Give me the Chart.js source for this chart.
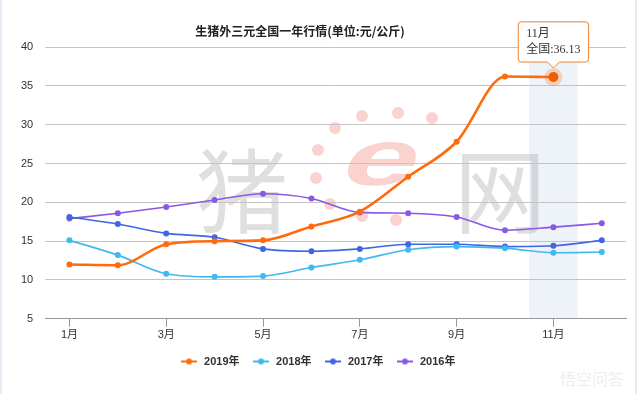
<!DOCTYPE html>
<html>
<head>
<meta charset="utf-8">
<script src="https://cdn.jsdelivr.net/npm/chart.js@4"></script>
<style>
  html, body { margin: 0; padding: 0; background: #fff; }
  #wrap { width: 640px; height: 394px; }
</style>
</head>
<body>
<div id="wrap"><canvas id="myChart" width="640" height="394"></canvas></div>
<script>
'use strict';

// 月份
const months = ['1月', '2月', '3月', '4月', '5月', '6月', '7月', '8月', '9月', '10月', '11月', '12月'];
const xTickLabels = ['1月', '3月', '5月', '7月', '9月', '11月'];

// 各年の価格 (元/公斤)
const s2019 = [12.0, 11.9, 14.6, 15.0, 15.1, 16.9, 18.8, 23.3, 27.8, 36.2, 36.13, null];
const s2018 = [15.1, 13.2, 10.8, 10.4, 10.5, 11.6, 12.6, 13.9, 14.3, 14.1, 13.5, 13.6];
const s2017 = [18.1, 17.2, 16.0, 15.5, 14.0, 13.7, 14.0, 14.6, 14.6, 14.3, 14.4, 15.1];
const s2016 = [17.9, 18.6, 19.4, 20.3, 21.1, 20.5, 18.7, 18.6, 18.1, 16.4, 16.8, 17.3];

const seriesNames = ['2019年', '2018年', '2017年', '2016年'];
const seriesColors = ['#ff6a0d', '#3fb9ee', '#3f66e0', '#8b58e6'];

const yMin = 5, yMax = 40, yStep = 5;
const highlightIndex = 10; // 11月
const chartTitle = '生猪外三元全国一年行情(单位:元/公斤)';

const FONT = '"Liberation Sans", "Noto Sans CJK SC", sans-serif';

// 凡例のアイコン（線＋点）
function legendIcon(color) {
  const c = document.createElement('canvas');
  c.width = 16; c.height = 8;
  const g = c.getContext('2d');
  g.strokeStyle = color;
  g.lineWidth = 2;
  g.beginPath(); g.moveTo(0, 4); g.lineTo(16, 4); g.stroke();
  g.fillStyle = color;
  g.beginPath(); g.arc(8, 4, 3, 0, Math.PI * 2); g.fill();
  return c;
}
const icons = seriesColors.map(legendIcon);

// 背景: ハイライト帯とウォーターマーク
const backdrop = {
  id: 'backdrop',
  beforeDraw(chart) {
    const { ctx, chartArea: a, scales: { x } } = chart;
    const w = x.getPixelForValue(1) - x.getPixelForValue(0);
    const cx = x.getPixelForValue(highlightIndex);
    ctx.save();
    ctx.fillStyle = '#eef2f9';
    ctx.fillRect(cx - w / 2, a.top, w, a.bottom - a.top);

    // 猪e网
    ctx.fillStyle = 'rgba(150,150,150,0.30)';
    ctx.font = '92px "Noto Sans CJK SC"';
    ctx.textAlign = 'center';
    ctx.textBaseline = 'middle';
    ctx.fillText('猪', 242, 191);
    ctx.fillText('网', 500, 191);
    ctx.fillStyle = 'rgba(238,110,95,0.30)';
    const dots = [[335, 128], [362, 116], [398, 113], [432, 118], [318, 150], [316, 178], [330, 204], [362, 216], [396, 220]];
    dots.forEach(([px, py]) => {
      ctx.beginPath(); ctx.arc(px, py, 6, 0, Math.PI * 2); ctx.fill();
    });
    ctx.save();
    ctx.translate(382, 163);
    ctx.transform(1.35, 0, -0.32, 0.8, 0, 0);
    ctx.font = 'bold 100px "Liberation Sans"';
    ctx.fillText('e', 0, 0);
    ctx.restore();

    // 左右の枠線
    ctx.fillStyle = '#e6eaf5';
    ctx.fillRect(0, 0, 2, chart.height);
    ctx.fillRect(chart.width - 5, 0, 2, chart.height);
    ctx.restore();
  },
  beforeDatasetsDraw(chart) {
    const p = chart.getDatasetMeta(0).data[highlightIndex];
    const { ctx } = chart;
    ctx.save();
    ctx.fillStyle = 'rgba(255,106,13,0.25)';
    ctx.beginPath(); ctx.arc(p.x, p.y, 9, 0, Math.PI * 2); ctx.fill();
    ctx.restore();
  },
  afterDraw(chart) {
    const { ctx } = chart;
    ctx.save();
    ctx.fillStyle = '#222';
    ctx.font = 'bold 12px "Noto Sans CJK SC"';
    ctx.textAlign = 'center';
    ctx.textBaseline = 'middle';
    ctx.fillText(chartTitle, 300, 31);

    ctx.font = '16px "Noto Sans CJK SC"';
    ctx.fillStyle = 'rgba(210,210,210,0.4)';
    ctx.fillText('悟空问答', 592, 379);
    ctx.restore();
  }
};

const ctx = document.getElementById('myChart').getContext('2d');

const datasets = [s2019, s2018, s2017, s2016].map((d, i) => ({
  label: seriesNames[i],
  data: d,
  borderColor: seriesColors[i],
  backgroundColor: seriesColors[i],
  borderWidth: i === 0 ? 2.6 : 1.6,
  pointRadius: i === 0 ? (c => c.dataIndex === highlightIndex ? 5 : 3) : 3,
  pointHoverRadius: 5,
  pointBorderWidth: 0,
  pointHoverBorderWidth: 0,
  cubicInterpolationMode: 'monotone',
  spanGaps: false,
}));

const config = {
  type: 'line',
  data: { labels: months, datasets: datasets },
  options: {
    responsive: false,
    animation: false,
    devicePixelRatio: 1,
    layout: { padding: { top: 47, left: 9, right: 14, bottom: 17 } },
    scales: {
      x: {
        type: 'category',
        offset: true,
        afterBuildTicks: s => {
          s.ticks = s.ticks.filter(t => xTickLabels.includes(months[t.value]));
        },
        grid: { drawOnChartArea: false, drawTicks: true, tickLength: 8, color: '#999', offset: false },
        border: { color: '#999' },
        ticks: { autoSkip: false, maxRotation: 0, padding: 2, color: '#333', font: { size: 11, family: FONT } },
      },
      y: {
        min: yMin,
        max: yMax,
        ticks: { stepSize: yStep, padding: 12, color: '#333', font: { size: 11, family: FONT } },
        grid: { color: '#c4c4c4', drawTicks: false },
        border: { display: false },
      }
    },
    plugins: {
      title: { display: false },
      legend: {
        position: 'bottom',
        labels: {
          usePointStyle: true,
          pointStyleWidth: 19,
          boxHeight: 8,
          padding: 12,
          color: '#333',
          font: { size: 11, weight: 'bold', family: FONT },
          generateLabels: chart => chart.data.datasets.map((d, i) => ({
            text: d.label,
            pointStyle: icons[i],
            fillStyle: d.borderColor,
            strokeStyle: d.borderColor,
            lineWidth: 0,
            hidden: false,
            datasetIndex: i,
            fontColor: '#333',
          })),
        },
      },
      tooltip: {
        backgroundColor: 'rgba(255,255,255,0.96)',
        borderColor: '#f0802f',
        borderWidth: 1,
        cornerRadius: 3,
        padding: { x: 8, y: 4 },
        caretSize: 6,
        caretPadding: 9,
        xAlign: 'center',
        yAlign: 'bottom',
        displayColors: false,
        titleColor: '#333',
        bodyColor: '#333',
        titleFont: { size: 12, weight: 'normal', family: '"Liberation Serif", "Noto Sans CJK SC", serif', lineHeight: 1.3 },
        bodyFont: { size: 12, family: '"Liberation Serif", "Noto Sans CJK SC", serif', lineHeight: 1.3 },
        titleMarginBottom: 1,
        callbacks: {
          title: items => items[0].label,
          label: item => '全国:' + item.parsed.y.toFixed(2),
        },
      },
    },
  },
  plugins: [backdrop],
};

const myChart = new Chart(ctx, config);

// 11月のツールチップを表示
const active = [{ datasetIndex: 0, index: highlightIndex }];
myChart.setActiveElements(active);
myChart.tooltip.setActiveElements(active, { x: 0, y: 0 });
myChart.update();
</script>
</body>
</html>
